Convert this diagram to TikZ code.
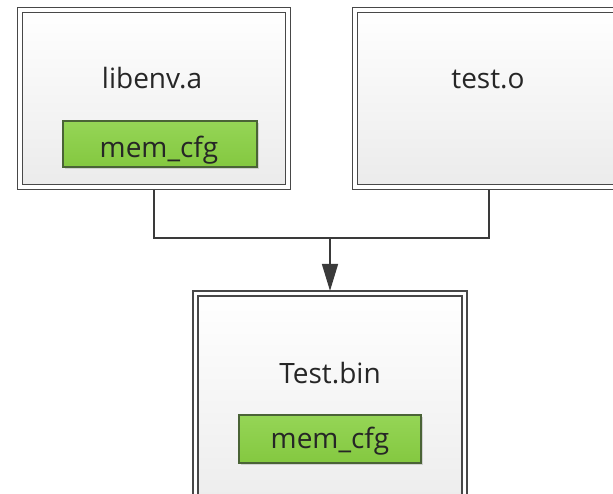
\documentclass[tikz,border=0pt]{standalone}
\usepackage{fontspec}
\setmainfont{Open Sans}
\usetikzlibrary{arrows.meta,calc,shadows}
\definecolor{bord}{HTML}{484848}
\definecolor{boxbot}{HTML}{EBEBEB}
\definecolor{gtop}{HTML}{95D556}
\definecolor{gbot}{HTML}{84C840}
\definecolor{gbord}{HTML}{4A6336}
\definecolor{txt}{HTML}{262626}
\definecolor{conncol}{HTML}{3A3A3A}
\tikzset{
  filebox/.style={rectangle, draw=bord, line width=1.7pt, double=white, double distance=3.4pt,
    top color=white, bottom color=boxbot, inner sep=0pt, outer sep=2.6pt,
    drop shadow={shadow xshift=2pt, shadow yshift=-2pt, fill=black!30, opacity=0.5}},
  gbox/.style={rectangle, draw=gbord, line width=1.3pt, top color=gtop, bottom color=gbot,
    inner sep=0pt, drop shadow={shadow xshift=1.5pt, shadow yshift=-1.5pt, fill=black!30, opacity=0.5}},
  lbl/.style={anchor=base, text=txt, font=\fontsize{28}{30}\selectfont, inner sep=0pt},
  conn/.style={draw=conncol, line width=1.6pt},
}
\begin{document}
\begin{tikzpicture}[x=1pt, y=-1pt]
\useasboundingbox (0,0) rectangle (613,493);
\fill[white] (0,0) rectangle (613,493);
\clip (0,0) rectangle (613,493);

\node[filebox, minimum width=268pt, minimum height=177pt] (b1) at (154,98.5) {};
\node[filebox, minimum width=268pt, minimum height=177pt] (b2) at (489,98.5) {};
\node[filebox, minimum width=269pt, minimum height=226pt] (b3) at (330,406.5) {};

\node[gbox, minimum width=194pt, minimum height=46pt] (g1) at (160,144) {};
\node[gbox, minimum width=182pt, minimum height=48pt] (g3) at (330,439) {};

\node[lbl] (t1) at (152,88) {libenv.a};
\node[lbl] (t2) at (488,88) {test.o};
\node[lbl] (t3) at (330,383) {Test.bin};
\node[lbl] (m1) at (159,157) {mem\_cfg};
\node[lbl] (m3) at (330,448) {mem\_cfg};

\coordinate (j) at (330,238);
\draw[conn] (b1.south) |- (j) -| (b2.south);
\draw[conn, -{Triangle[width=16pt,length=27pt]}] (j) -- (b3.north);
\end{tikzpicture}
\end{document}
